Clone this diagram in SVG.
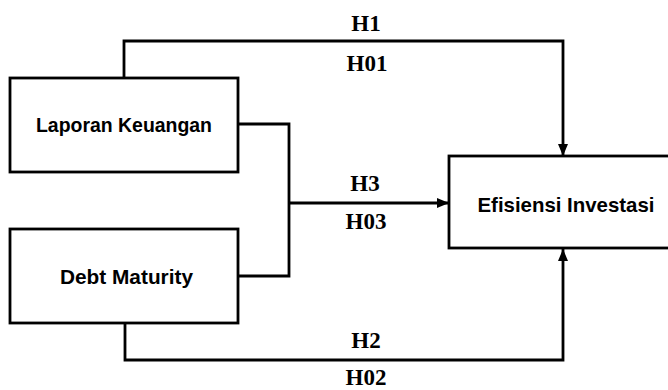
<svg xmlns="http://www.w3.org/2000/svg" width="668" height="390" viewBox="0 0 668 390">
  <defs>
    <marker id="arrow" viewBox="0 0 12 10" refX="12" refY="5" markerWidth="12" markerHeight="10" markerUnits="userSpaceOnUse" orient="auto">
      <path d="M0,0 L12,5 L0,10 Z" fill="#000"/>
    </marker>
    <style>
      .box { fill: #fff; stroke: #000; stroke-width: 2.8; }
      .node-label { font-family: "Liberation Sans", Arial, sans-serif; font-weight: bold; font-size: 21px; fill: #000; text-anchor: middle; }
      .edge { fill: none; stroke: #000; stroke-width: 2.8; }
      .edge-label { font-family: "Liberation Serif", "Times New Roman", serif; font-weight: bold; font-size: 23px; fill: #000; text-anchor: middle; }
    </style>
  </defs>

  <rect width="668" height="390" fill="#fff"/>

  <!-- connectors -->
  <g id="connectors">
    <path class="edge" d="M124,78 V41 H563 V156" marker-end="url(#arrow)"/>
    <path class="edge" d="M238,124 H289 V276 H238"/>
    <path class="edge" d="M289,203 H449" marker-end="url(#arrow)"/>
    <path class="edge" d="M125,323 V360 H563 V249" marker-end="url(#arrow)"/>
    <text class="edge-label" x="366" y="31">H1</text>
    <text class="edge-label" x="367" y="71">H01</text>
    <text class="edge-label" x="365" y="191">H3</text>
    <text class="edge-label" x="366" y="229">H03</text>
    <text class="edge-label" x="366" y="348">H2</text>
    <text class="edge-label" x="366" y="385">H02</text>
  </g>

  <!-- nodes -->
  <g id="laporan-keuangan">
    <rect class="box" x="10" y="78" width="228" height="94"/>
    <text class="node-label" x="124" y="132" textLength="176" lengthAdjust="spacingAndGlyphs">Laporan Keuangan</text>
  </g>

  <g id="debt-maturity">
    <rect class="box" x="10" y="229" width="228" height="94"/>
    <text class="node-label" x="126.5" y="284" textLength="133" lengthAdjust="spacingAndGlyphs">Debt Maturity</text>
  </g>

  <g id="efisiensi-investasi">
    <rect class="box" x="449" y="156" width="240" height="92"/>
    <text class="node-label" x="566" y="212" textLength="177" lengthAdjust="spacingAndGlyphs">Efisiensi Investasi</text>
  </g>
</svg>
